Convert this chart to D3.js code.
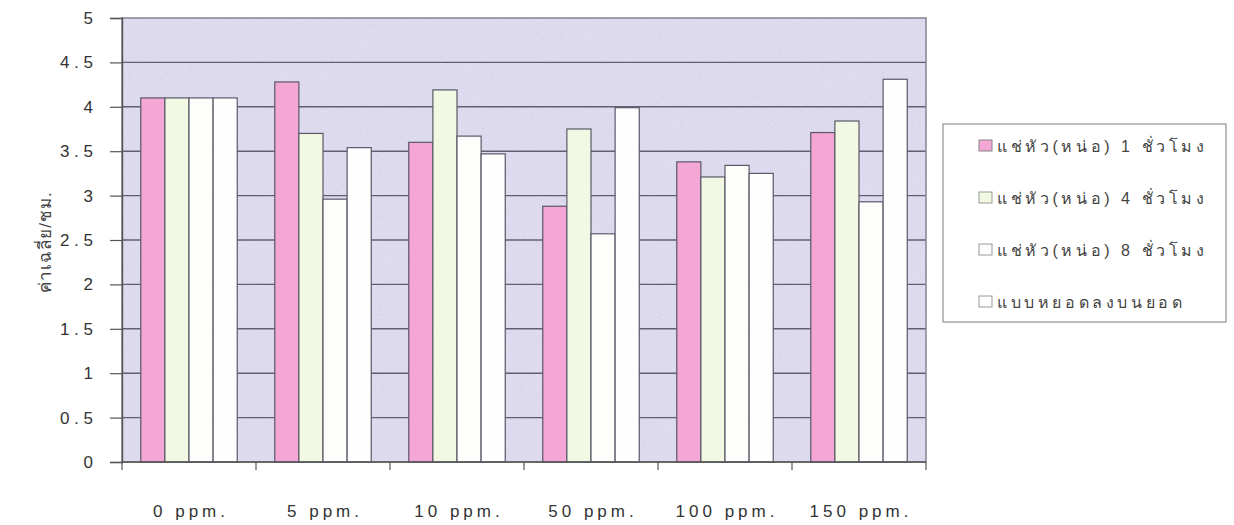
<!DOCTYPE html>
<html>
<head>
<meta charset="utf-8">
<script src="https://cdn.jsdelivr.net/npm/d3@7"></script>
<style>
  body { margin: 0; background: #fff; }
  svg { display: block; font-family: "Liberation Sans", Arial, sans-serif; }
</style>
</head>
<body>
<svg id="chart" width="1234" height="525"></svg>
<script>
const categories = ["0 ppm.", "5 ppm.", "10 ppm.", "50 ppm.", "100 ppm.", "150 ppm."];
const seriesNames = ["แช่หัว(หน่อ) 1 ชั่วโมง", "แช่หัว(หน่อ) 4 ชั่วโมง", "แช่หัว(หน่อ) 8 ชั่วโมง", "แบบหยอดลงบนยอด"];
const soak1h = [4.1, 4.28, 3.6, 2.88, 3.38, 3.71];
const soak4h = [4.1, 3.7, 4.19, 3.75, 3.21, 3.84];
const soak8h = [4.1, 2.96, 3.67, 2.57, 3.34, 2.93];
const dropTop = [4.1, 3.54, 3.47, 3.99, 3.25, 4.31];
const yTicks = [0, 0.5, 1, 1.5, 2, 2.5, 3, 3.5, 4, 4.5, 5];
const yTickLabels = ["0", "0.5", "1", "1.5", "2", "2.5", "3", "3.5", "4", "4.5", "5"];
const yLabel = "ค่าเฉลี่ย/ชม.";

const series = [soak1h, soak4h, soak8h, dropTop];
const colors = ["#f4a6d6", "#f1f9e3", "#fdfdfc", "#fefefe"];

const svg = d3.select("#chart");
const m = { left: 122, right: 1234 - 926, top: 18, bottom: 525 - 462 };
const W = 1234 - m.left - m.right, H = 525 - m.top - m.bottom;
const g = svg.append("g").attr("transform", `translate(${m.left},${m.top})`);

const x0 = d3.scaleBand().domain(categories).range([0, W]).paddingInner(0.28).paddingOuter(0.14);
const x1 = d3.scaleBand().domain(d3.range(series.length)).range([0, x0.bandwidth()]);
const y = d3.scaleLinear().domain([0, 5]).range([H, 0]);

// textured background
const defs = svg.append("defs");
const filt = defs.append("filter").attr("id", "noise").attr("x", 0).attr("y", 0).attr("width", "100%").attr("height", "100%");
filt.append("feTurbulence").attr("type", "fractalNoise").attr("baseFrequency", 0.9).attr("numOctaves", 1).attr("seed", 3).attr("result", "n");
filt.append("feColorMatrix").attr("in", "n").attr("type", "matrix")
  .attr("values", "0 0 0 0 1  0 0 0 0 1  0 0 0 0 1  0 0 0 -1.6 0.9").attr("result", "w");
filt.append("feComposite").attr("in", "w").attr("in2", "SourceGraphic").attr("operator", "in");

g.append("rect").attr("width", W).attr("height", H).attr("fill", "#dbd7ed");
g.append("rect").attr("width", W).attr("height", H).attr("fill", "#dbd7ed").attr("filter", "url(#noise)").attr("opacity", 0.5);

// gridlines
g.append("g").selectAll("line").data(yTicks.filter(t => t > 0 && t < 5)).join("line")
  .attr("x1", 0).attr("x2", W).attr("y1", d => y(d)).attr("y2", d => y(d))
  .attr("stroke", "#625f72").attr("stroke-width", 1.4);

// plot border
g.append("rect").attr("width", W).attr("height", H).attr("fill", "none")
  .attr("stroke", "#8a8898").attr("stroke-width", 1.6);

// bars
const grp = g.append("g").selectAll("g").data(categories).join("g")
  .attr("transform", d => `translate(${x0(d)},0)`);
grp.selectAll("rect").data((d, i) => series.map((s, k) => ({ k, v: s[i] }))).join("rect")
  .attr("x", d => x1(d.k)).attr("width", x1.bandwidth())
  .attr("y", d => y(d.v)).attr("height", d => H - y(d.v))
  .attr("fill", d => colors[d.k]).attr("stroke", "#5a5868").attr("stroke-width", 1.2);

// y axis
const yAxis = g.append("g").call(
  d3.axisLeft(y).tickValues(yTicks).tickFormat((d, i) => yTickLabels[i]).tickSize(12).tickPadding(17)
);
yAxis.select(".domain").attr("stroke", "#555").attr("stroke-width", 1.4);
yAxis.selectAll(".tick line").attr("stroke", "#555").attr("stroke-width", 1.2);
yAxis.selectAll("text").attr("font-size", 17).attr("fill", "#333")
  .text((d, i) => yTickLabels[i].replace(".", " . "));

// x axis
const xb = d3.scaleLinear().domain([0, categories.length]).range([0, W]);
const xAxisG = g.append("g").attr("transform", `translate(0,${H})`);
xAxisG.append("line").attr("x1", 0).attr("x2", W).attr("stroke", "#555").attr("stroke-width", 1.4);
xAxisG.selectAll("line.tk").data(d3.range(categories.length + 1)).join("line").attr("class", "tk")
  .attr("x1", d => xb(d)).attr("x2", d => xb(d)).attr("y1", 0).attr("y2", 8)
  .attr("stroke", "#555").attr("stroke-width", 1.2);
xAxisG.selectAll("text").data(categories).join("text")
  .attr("x", d => x0(d) + x0.bandwidth() / 2 + 2).attr("y", 55)
  .attr("text-anchor", "middle").attr("font-size", 17).attr("fill", "#333")
  .style("letter-spacing", "4px").text(d => d);

// y label
svg.append("text").attr("transform", "translate(51,242) rotate(-90)")
  .attr("text-anchor", "middle").attr("font-size", 17).attr("fill", "#444")
  .style("letter-spacing", "1px")
  .text(yLabel);

// legend
const lg = svg.append("g");
lg.append("rect").attr("x", 943).attr("y", 124).attr("width", 283).attr("height", 198)
  .attr("fill", "#fff").attr("stroke", "#999").attr("stroke-width", 1.3);
const items = lg.selectAll("g.item").data(seriesNames).join("g").attr("class", "item")
  .attr("transform", (d, i) => `translate(979,${146 + i * 52})`);
items.append("rect").attr("x", 0).attr("y", -6).attr("width", 13).attr("height", 11)
  .attr("fill", (d, i) => colors[i]).attr("stroke", (d, i) => i === 0 ? "#888" : "#999").attr("stroke-width", 1);
items.append("text").attr("x", 18).attr("y", 6).attr("font-size", 16).attr("fill", "#444")
  .style("letter-spacing", "3.6px").text(d => d);
</script>
</body>
</html>
